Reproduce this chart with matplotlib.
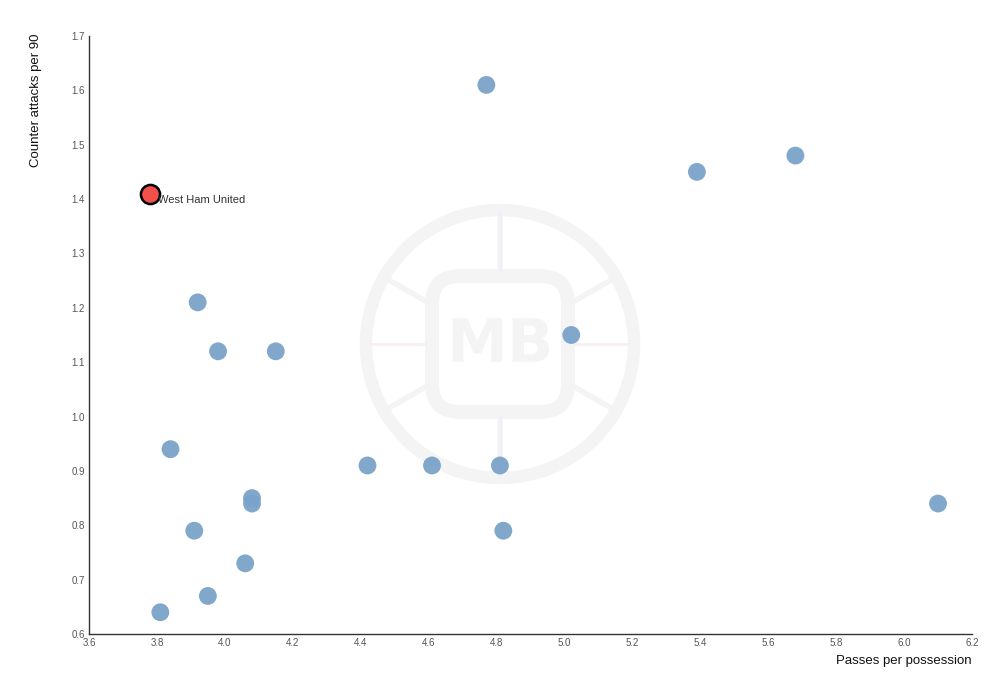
import numpy as np
import matplotlib.pyplot as plt
from matplotlib.patches import Circle, FancyBboxPatch

plt.rcParams['font.family'] = ['Liberation Sans', 'DejaVu Sans']

# data
passes = [4.77, 5.39, 5.68, 3.92, 3.98, 4.15, 5.02, 3.84, 4.42, 4.61,
          4.81, 4.08, 4.08, 3.91, 4.82, 6.10, 4.06, 3.95, 3.81]
counters = [1.61, 1.45, 1.48, 1.21, 1.12, 1.12, 1.15, 0.94, 0.91, 0.91,
            0.91, 0.85, 0.84, 0.79, 0.79, 0.84, 0.73, 0.67, 0.64]
team_name = "West Ham United"
team_x = 3.78
team_y = 1.41

xticks = [3.6, 3.8, 4.0, 4.2, 4.4, 4.6, 4.8, 5.0, 5.2, 5.4, 5.6, 5.8, 6.0, 6.2]
yticks = [0.6, 0.7, 0.8, 0.9, 1.0, 1.1, 1.2, 1.3, 1.4, 1.5, 1.6, 1.7]

fig = plt.figure(figsize=(10, 6.89), dpi=100)

# watermark layer in pixel coords
bg = fig.add_axes([0, 0, 1, 1], zorder=0)
bg.set_xlim(0, 1000)
bg.set_ylim(689, 0)
bg.axis('off')
wm = '#f4f4f4'
cx, cy = 500, 344
bg.add_patch(Circle((cx, cy), 134, fill=False, lw=9, ec=wm))
ang = np.deg2rad(np.arange(0, 360, 60) + 30)
for a in ang:
    x0, y0 = cx + 78 * np.cos(a), cy + 78 * np.sin(a)
    x1, y1 = cx + 128 * np.cos(a), cy + 128 * np.sin(a)
    bg.plot([x0, x1], [y0, y1], color=wm, lw=4)
bg.plot([cx, cx], [212, 270], color='#f0f1f6', lw=2.5)
bg.plot([cx, cx], [418, 476], color='#f0f1f6', lw=2.5)
bg.plot([367, 425], [cy, cy], color='#f7f0f2', lw=2)
bg.plot([575, 633], [cy, cy], color='#f7f0f2', lw=2)
bg.add_patch(FancyBboxPatch((432, 276), 136, 136, boxstyle="round,pad=0,rounding_size=28",
                            fill=False, lw=10, ec=wm))
bg.text(cx, cy + 2, "MB", ha='center', va='center', fontsize=44, fontweight='bold',
        color=wm, family='DejaVu Sans')

ax = fig.add_axes([0.089, 0.0798, 0.883, 0.868], zorder=1)
ax.patch.set_alpha(0)

ax.scatter(passes, counters, s=165, color='#7aa3c9', edgecolors='none', alpha=0.95, zorder=3)
ax.scatter([team_x], [team_y], s=190, color='#f2504b', edgecolors='black', linewidths=1.8, zorder=4)
ax.annotate(team_name, (team_x, team_y), xytext=(6, -7), textcoords='offset points',
            fontsize=8, color='#333333', zorder=5)

ax.set_xlim(3.6, 6.2)
ax.set_ylim(0.6, 1.7)
ax.set_xticks(xticks)
ax.set_yticks(yticks)
ax.set_xticklabels([f"{v:.1f}" for v in xticks])
ax.set_yticklabels([f"{v:.1f}" for v in yticks])
ax.tick_params(length=0, labelsize=7, labelcolor='#555555', pad=3)
for s in ['top', 'right']:
    ax.spines[s].set_visible(False)
for s in ['left', 'bottom']:
    ax.spines[s].set_color('#333333')
    ax.spines[s].set_linewidth(1)

fig.text(0.972, 0.04, "Passes per possession", ha='right', va='center', fontsize=9.5, color='#111111')
fig.text(0.036, 0.855, "Counter attacks per 90", ha='center', va='center', rotation=90,
         fontsize=9.5, color='#111111')

fig.savefig('out.png', dpi=100)
